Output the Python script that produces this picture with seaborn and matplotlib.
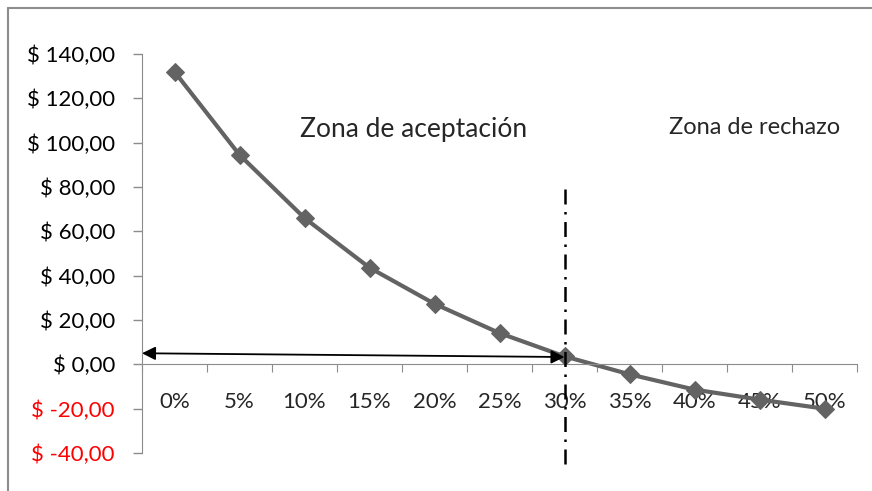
import numpy as np
import pandas as pd
import matplotlib.pyplot as plt
import seaborn as sns
from matplotlib.lines import Line2D

# Data
tasas = ["0%", "5%", "10%", "15%", "20%", "25%", "30%", "35%", "40%", "45%", "50%"]
van = [132.0, 94.5, 66.0, 43.6, 27.3, 14.1, 3.6, -4.5, -11.4, -15.9, -20.0]
y_ticks = [-40, -20, 0, 20, 40, 60, 80, 100, 120, 140]

sns.set_style("white")
plt.rcParams['font.family'] = ['Lato', 'DejaVu Sans']

df = pd.DataFrame({"pos": np.arange(len(tasas)), "van": van})

fig = plt.figure(figsize=(8.72, 4.91), dpi=100)
ax = fig.add_axes([142 / 872, 1 - 453 / 491, 715 / 872, 399 / 491])

sns.lineplot(data=df, x="pos", y="van", ax=ax, color="#636363", linewidth=3,
             marker="D", markersize=9, markeredgecolor="#636363")

ax.set_xlim(-0.5, len(tasas) - 0.5)
ax.set_ylim(-40, 140)
ax.set_xlabel("")
ax.set_ylabel("")

# y axis
ax.set_yticks(y_ticks)
ax.set_yticklabels([f"$ {v:.2f}".replace(".", ",") for v in y_ticks], fontsize=16)
for lbl, v in zip(ax.get_yticklabels(), y_ticks):
    lbl.set_color("red" if v < 0 else "black")
ax.tick_params(axis="y", direction="out", length=6.5, width=1, color="#8c8c8c", pad=13, left=True)

# x axis: Excel style, spine at zero, ticks between categories
for s in ["top", "right"]:
    ax.spines[s].set_visible(False)
ax.spines["left"].set_color("#8c8c8c")
ax.spines["bottom"].set_position(("data", 0))
ax.spines["bottom"].set_color("#8c8c8c")
ax.set_xticks(np.arange(len(tasas) + 1) - 0.5)
ax.set_xticklabels([])
ax.set_xticks(np.arange(len(tasas)), minor=True)
ax.set_xticklabels(tasas, minor=True, fontsize=16)
ax.tick_params(axis="x", which="major", direction="out", length=6, color="#8c8c8c", bottom=True)
ax.tick_params(axis="x", which="minor", length=0, pad=20)

# rejection threshold and acceptance arrow
ax.plot([6, 6], [79, -46], color="black", linestyle=(0, (6, 3, 1, 3)), linewidth=1.8,
        clip_on=False, zorder=4)
ax.annotate("", xy=(6, 3.3), xytext=(-0.5, 5),
            arrowprops=dict(arrowstyle="<|-|>", color="black", lw=1.3,
                            mutation_scale=20, shrinkA=0, shrinkB=0), zorder=5)

ax.text(3.68, 106, "Zona de aceptación", fontsize=19, ha="center", va="center")
ax.text(8.93, 107, "Zona de rechazo", fontsize=17, ha="center", va="center")

# outer chart frame
fig.add_artist(Line2D([8 / 872, 8 / 872], [0, 1 - 8 / 491], color="#8c8c8c", lw=1.5))
fig.add_artist(Line2D([8 / 872, 1], [1 - 8 / 491, 1 - 8 / 491], color="#8c8c8c", lw=1.5))

fig.savefig("out.png", dpi=100)
